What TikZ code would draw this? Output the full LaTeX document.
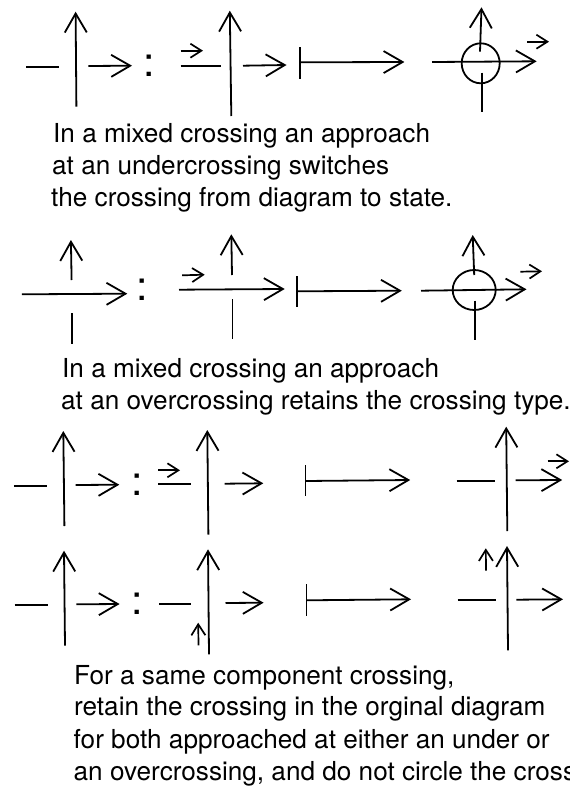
\documentclass[tikz,border=0pt]{standalone}
\usepackage{fontspec}
\setmainfont{TeX Gyre Heros}
\usetikzlibrary{arrows.meta}
\tikzset{
  x=1pt,y=-1pt,
  strand/.style={line width=1.8pt,line cap=butt},
  bigarrow/.style={strand,-{Straight Barb[length=19pt,width=22pt,line width=1.8pt]}},
  smallarrow/.style={line width=1.7pt,-{Straight Barb[length=11pt,width=14pt,line width=1.7pt]}},
  caption/.style={anchor=base west,inner sep=0pt,font=\fontsize{26.15}{30}\selectfont},
  sep/.style={anchor=base,inner sep=0pt,font=\fontsize{41}{41}\selectfont}
}
\begin{document}
\begin{tikzpicture}
\useasboundingbox (0,0) rectangle (570,787);
% row 1
\draw[strand] (26,66.7)--(59,66.7);
\draw[bigarrow] (76.4,106.7)--(75.6,11.7);
\draw[bigarrow] (88.4,66)--(132,65.7);
\node[sep] (c1) at (149,76.3) {:};
\draw[smallarrow] (180.7,50.7)--(203,50.7);
\draw[strand] (180.7,65.7)--(220.7,65.7);
\draw[bigarrow] (231.3,116)--(229.8,10.7);
\draw[bigarrow] (243,65.7)--(286.5,65);
\draw[strand] (300,47.3)--(300,78.7);
\draw[bigarrow] (300,62.3)--(404.4,62);
\draw[bigarrow] (432,62)--(536.7,61.3);
\draw[bigarrow] (480,51.7)--(481.5,7.3);
\draw[strand] (482,72.7)--(482,112.3);
\draw[strand] (480.7,63.3) ellipse [x radius=19,y radius=20];
\draw[smallarrow] (527.3,41.7)--(549,41.7);
\node[caption] (t1) at (53,142) {In a mixed crossing an approach};
\node[caption] (t2) at (52,174) {at an undercrossing switches};
\node[caption] (t3) at (51,206) {the crossing from diagram to state.};
% row 2
\draw[bigarrow] (71.6,280)--(70.9,240);
\draw[strand] (72,313.3)--(72,344.3);
\draw[bigarrow] (21.8,294.3)--(127.3,293.7);
\node[sep] (c2) at (142.5,300.6) {:};
\draw[smallarrow] (182.2,275.3)--(204.7,274.7);
\draw[bigarrow] (232,275)--(231.3,234.3);
\draw[strand] (232.4,299.3)--(232.4,339);
\draw[bigarrow] (179,289.7)--(284.7,289);
\draw[strand] (297,276)--(297,307.3);
\draw[bigarrow] (297,291.3)--(401.8,290.7);
\draw[bigarrow] (421,290.7)--(526.5,289.3);
\draw[bigarrow] (474.2,275)--(472.7,235);
\draw[strand] (475,300.7)--(475,340);
\draw[strand] (474.2,290) ellipse [x radius=21.5,y radius=20];
\draw[smallarrow] (520.4,271.7)--(542,271.3);
\node[caption] (t4) at (62,377.7) {In a mixed crossing an approach};
\node[caption] (t5) at (61,409) {at an overcrossing retains the crossing type.};
% row 3
\draw[strand] (13.8,485.7)--(47,485.7);
\draw[bigarrow] (64.4,526)--(63.3,431);
\draw[bigarrow] (75.6,485)--(119.3,484.7);
\node[sep] (c3) at (136.7,495) {:};
\draw[smallarrow] (158.2,470.3)--(180,470.3);
\draw[strand] (158.2,484.3)--(190.5,484.3);
\draw[bigarrow] (208.4,534.7)--(207.3,430);
\draw[bigarrow] (224.7,483.7)--(263.3,483.3);
\draw[strand] (305.5,465)--(305.5,496.3);
\draw[bigarrow] (305.5,481)--(410.2,480);
\draw[strand] (456.7,481.3)--(495.3,481.3);
\draw[bigarrow] (507.3,531)--(506.2,426.7);
\draw[bigarrow] (515.6,480.3)--(562.2,480);
\draw[smallarrow] (547.6,461.3)--(569,461.3);
% row 4
\draw[strand] (14.5,605)--(47.6,605);
\draw[bigarrow] (65,645.7)--(64,550.7);
\draw[bigarrow] (76.4,604.3)--(119.6,604);
\node[sep] (c4) at (137.5,614) {:};
\draw[strand] (159,603.7)--(191.3,603.7);
\draw[bigarrow] (209,654.3)--(208,549.3);
\draw[bigarrow] (225.5,603)--(263.6,602.7);
\draw[smallarrow] (198.5,645.3)--(198.2,622.7);
\draw[strand] (306.5,584.3)--(306.5,615.7);
\draw[bigarrow] (306.5,600.3)--(411,599.3);
\draw[strand] (457.5,600.3)--(496,600.3);
\draw[bigarrow] (508,650.3)--(507,546);
\draw[bigarrow] (516.4,599.7)--(563,599.3);
\draw[smallarrow] (486,570.7)--(485.8,548.3);
\node[caption] (t6) at (74,684.5) {For a same component crossing,};
\node[caption] (t7) at (74,715.5) {retain the crossing in the orginal diagram};
\node[caption] (t8) at (73.5,748) {for both approached at either an under or};
\node[caption] (t9) at (73.5,780) {an overcrossing, and do not circle the cross};
\end{tikzpicture}
\end{document}
